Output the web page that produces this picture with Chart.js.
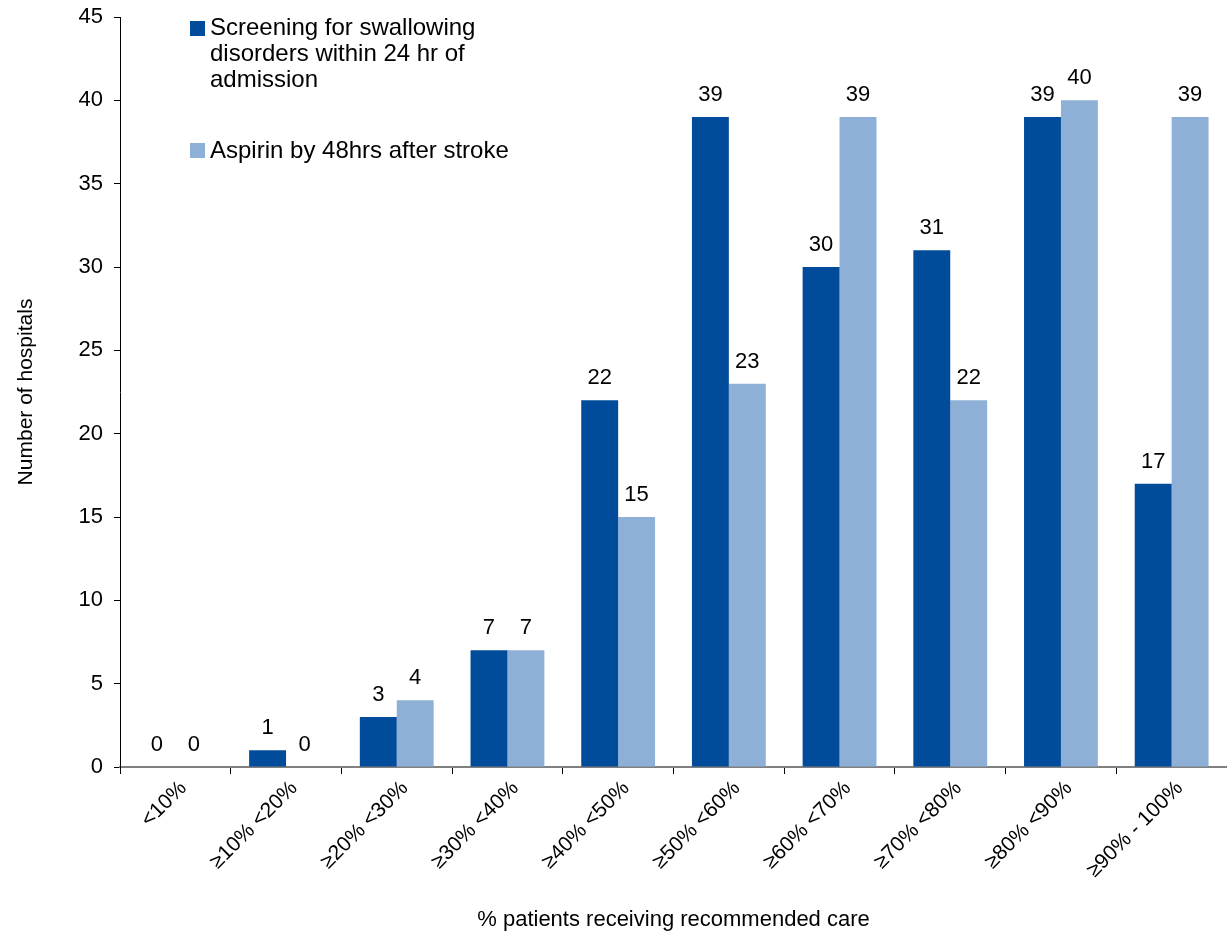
<!DOCTYPE html>
<html><head><meta charset="utf-8">
<script src="https://cdn.jsdelivr.net/npm/chart.js@4/dist/chart.umd.min.js"></script>
<style>html,body{margin:0;padding:0;background:#fff}#wrap{width:1227px;height:935px;position:relative}</style>
</head><body><div id="wrap"><canvas id="c" width="1227" height="935"></canvas></div>
<script>
const categories = ['<10%', '\u226510% <20%', '\u226520% <30%', '\u226530% <40%', '\u226540% <50%', '\u226550% <60%', '\u226560% <70%', '\u226570% <80%', '\u226580% <90%', '\u226590% - 100%'];
const screening = [0, 1, 3, 7, 22, 39, 30, 31, 39, 17];
const aspirin = [0, 0, 4, 7, 15, 23, 39, 22, 40, 39];
const yMin = 0, yMax = 45, yStep = 5;
const seriesLabels = [
  ['Screening for swallowing', 'disorders within 24 hr of', 'admission'],
  ['Aspirin by 48hrs after stroke']
];
const seriesColors = ['#004C9B', '#8EB0D6'];
const xTitle = '% patients receiving recommended care';
const yTitle = 'Number of hospitals';

const FONT = '"Liberation Sans", Arial, sans-serif';

const valueLabels = {
  id: 'valueLabels',
  afterDatasetsDraw(chart) {
    const ctx = chart.ctx;
    ctx.save();
    ctx.font = '22px ' + FONT;
    ctx.fillStyle = '#000';
    ctx.textAlign = 'center';
    ctx.textBaseline = 'alphabetic';
    chart.data.datasets.forEach((ds, i) => {
      const meta = chart.getDatasetMeta(i);
      meta.data.forEach((el, j) => {
        ctx.fillText(String(ds.data[j]), el.x, el.y - 16);
      });
    });
    ctx.restore();
  }
};

const customLegend = {
  id: 'customLegend',
  afterDraw(chart) {
    const ctx = chart.ctx;
    const a = chart.chartArea;
    ctx.save();
    ctx.font = '24px ' + FONT;
    ctx.fillStyle = '#000';
    ctx.textAlign = 'left';
    ctx.textBaseline = 'alphabetic';
    const sx = a.left + 70, tx = a.left + 90;
    const blocks = [{top: a.top + 4, base: a.top + 18}, {top: a.top + 126, base: a.top + 141}];
    seriesLabels.forEach((lines, i) => {
      ctx.fillStyle = seriesColors[i];
      ctx.fillRect(sx, blocks[i].top, 15, 15);
      ctx.fillStyle = '#000';
      lines.forEach((ln, k) => ctx.fillText(ln, tx, blocks[i].base + k * 26));
    });
    ctx.restore();
  }
};

new Chart(document.getElementById('c'), {
  type: 'bar',
  data: {
    labels: categories,
    datasets: [
      {label: seriesLabels[0].join(' '), data: screening, backgroundColor: seriesColors[0], categoryPercentage: 0.667, barPercentage: 1.0},
      {label: seriesLabels[1].join(' '), data: aspirin, backgroundColor: seriesColors[1], categoryPercentage: 0.667, barPercentage: 1.0}
    ]
  },
  options: {
    responsive: false,
    animation: false,
    layout: {padding: {top: 17, right: 0, left: 0, bottom: 0}},
    plugins: {legend: {display: false}, tooltip: {enabled: false}},
    scales: {
      x: {
        offset: true,
        grid: {offset: true, drawOnChartArea: false, drawTicks: true, tickLength: 7, color: '#000'},
        border: {display: true, color: '#808080', width: 2},
        ticks: {minRotation: 45, maxRotation: 45, color: '#000', font: {size: 21, family: FONT}, padding: 2, labelOffset: 8},
        title: {display: true, text: xTitle, color: '#000', font: {size: 22, family: FONT}, padding: {top: 0, bottom: 2}},
        afterFit(scale) { scale.height = 168; scale.paddingLeft = 0; scale.paddingRight = 0; }
      },
      y: {
        min: yMin, max: yMax,
        ticks: {stepSize: yStep, color: '#000', font: {size: 22, family: FONT}, padding: 11},
        grid: {drawOnChartArea: false, drawTicks: true, tickLength: 6, color: '#000'},
        border: {display: true, color: '#000', width: 1},
        title: {display: true, text: yTitle, color: '#000', font: {size: 21, family: FONT}, padding: {top: 14, bottom: 0}},
        afterFit(scale) { scale.width = 120; scale.paddingTop = 0; scale.paddingBottom = 0; }
      }
    }
  },
  plugins: [valueLabels, customLegend]
});
</script>
</body></html>
